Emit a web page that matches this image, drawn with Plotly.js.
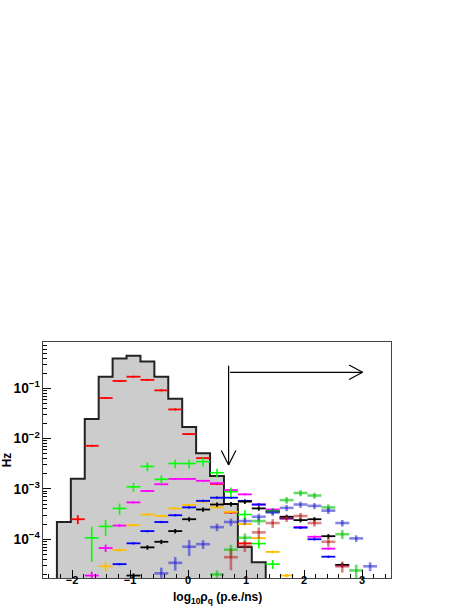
<!DOCTYPE html>
<html>
<head>
<meta charset="utf-8">
<script src="https://cdn.plot.ly/plotly-3.0.1.min.js"></script>
<style>
  html, body { margin: 0; padding: 0; background: #fff; }
</style>
</head>
<body>
<div id="chart" style="width:469px;height:607px;"></div>
<script>
// bin centres of log10(rho_q), 25 bins of 0.24 between -2.5 and 3.5
const binCenters = [-2.38, -2.14, -1.90, -1.66, -1.42, -1.18, -0.94, -0.70, -0.46, -0.22,
  0.02, 0.26, 0.50, 0.74, 0.98, 1.22, 1.46, 1.70, 1.94, 2.18, 2.42, 2.66, 2.90, 3.14, 3.38];
const halfBin = 0.12;

// grey total histogram (bin edges and contents)
const histEdges = [-2.26, -2.02, -1.78, -1.54, -1.30, -1.06, -0.82, -0.58, -0.34, -0.10,
  0.14, 0.38, 0.62, 0.86, 1.10, 1.34];
const histValues = [2.2e-4, 1.6e-3, 0.0245, 0.17, 0.39, 0.445, 0.34, 0.17, 0.062, 0.017,
  0.0051, 1.8e-3, 5.0e-4, 7.0e-5, 3.5e-5];

// solid series (one value per bin, null = no point)
const redVals = [null, null, 2.5e-4, 7.2e-3, 0.064, 0.14, 0.17, 0.147, 0.091, 0.038,
  0.0123, 0.0041, 1.26e-3, 3.4e-4, 8.3e-5, null, null, null, null, null, null, null, null, null, null];
const redRel = [0, 0, 0.2, 0.04, 0.04, 0.04, 0.04, 0.04, 0.04, 0.04,
  0.04, 0.04, 0.04, 0.05, 0.06, 0, 0, 0, 0, 0, 0, 0, 0, 0, 0];

const greenVals = [null, null, null, 1.07e-4, 1.8e-4, 4.1e-4, 1.1e-3, 2.8e-3, 1.55e-3, 3.2e-3,
  3.2e-3, 3.5e-3, 2.1e-3, 8.8e-4, 3.1e-4, 8.2e-5, 3.2e-5, null, null, null, null, null, null, null, null];
const greenRel = [0, 0, 0, 0.67, 0.35, 0.25, 0.2, 0.2, 0.2, 0.2,
  0.2, 0.2, 0.2, 0.22, 0.22, 0.2, 0.2, 0, 0, 0, 0, 0, 0, 0, 0];

const magentaVals = [null, null, null, 1.9e-5, 6.7e-5, 1.87e-4, 5.4e-4, 9.1e-4, 1.24e-3, 1.58e-3,
  1.58e-3, 1.45e-3, 1.3e-3, 9.5e-4, 7.8e-4, 4.9e-4, 3.9e-4, 2.6e-4, 1.74e-4, 1.12e-4,
  6.5e-5, 3.0e-5, null, null, null];
const magentaRel = [0, 0, 0, 0.2, 0.17, 0.06, 0.04, 0.04, 0.04, 0.04,
  0.04, 0.04, 0.04, 0.04, 0.04, 0.04, 0.05, 0.05, 0.05, 0.05, 0.06, 0.08, 0, 0, 0];

const orangeVals = [null, null, null, null, 2.9e-5, 6.1e-5, 1.9e-4, 3.1e-4, 2.9e-4, 4.1e-4,
  4.8e-4, 5.6e-4, 4.3e-4, 3.5e-4, 2.0e-4, 1.05e-4, 5.6e-5, 1.9e-5, null, null, null, null, null, null, null];
const orangeRel = [0, 0, 0, 0, 0.22, 0.07, 0.05, 0.05, 0.05, 0.05,
  0.05, 0.05, 0.05, 0.05, 0.05, 0.05, 0.06, 0.08, 0, 0, 0, 0, 0, 0, 0];

const blueVals = [null, null, null, null, null, 3.2e-5, 8.3e-5, 1.45e-4, 2.2e-4, 3.0e-4,
  4.3e-4, 5.8e-4, 6.7e-4, 6.7e-4, 5.8e-4, 4.9e-4, 3.5e-4, 2.6e-4, 1.7e-4, 1.0e-4,
  4.5e-5, null, null, null, null];
const blueRel = 0.05;

const blackVals = [null, null, null, null, null, null, 1.9e-5, 6.9e-5, 8.9e-5, 1.45e-4,
  2.5e-4, 3.9e-4, 4.9e-4, 5.0e-4, 5.6e-4, 4.1e-4, 3.6e-4, 2.8e-4, 2.4e-4, 2.5e-4,
  1.15e-4, 3.1e-5, null, null, null];
const blackRel = 0.1;

// faded series (crosses)
const blueBVals = [null, null, null, null, null, null, null, null, 2.1e-5, 3.4e-5,
  7.1e-5, 8.0e-5, 1.74e-4, 2.2e-4, 2.3e-4, 2.8e-4, 3.4e-4, 4.2e-4, 4.9e-4, 4.6e-4,
  3.7e-4, 2.1e-4, 1.04e-4, 2.9e-5, null];
const blueBRel = [0, 0, 0, 0, 0, 0, 0, 0, 0.3, 0.3,
  0.35, 0.2, 0.17, 0.17, 0.15, 0.15, 0.14, 0.14, 0.14, 0.14, 0.14, 0.15, 0.15, 0.2, 0];

const redBVals = [null, null, null, null, null, null, null, null, null, null,
  null, null, null, 4.4e-5, 7.4e-5, 1.37e-4, 2.1e-4, 2.6e-4, 2.9e-4, 2.1e-4,
  8.9e-5, 2.9e-5, null, null, null];
const redBRel = [0, 0, 0, 0, 0, 0, 0, 0, 0, 0,
  0, 0, 0, 0.45, 0.25, 0.25, 0.2, 0.15, 0.15, 0.15, 0.2, 0.25, 0, 0, 0];

const greenBVals = [null, null, null, null, null, null, null, null, null, null,
  null, null, 2.0e-5, 6.2e-5, 1.07e-4, 2.3e-4, 3.6e-4, 6.0e-4, 8.3e-4, 7.4e-4,
  4.3e-4, 1.26e-4, 2.4e-5, null, null];
const greenBRel = [0, 0, 0, 0, 0, 0, 0, 0, 0, 0,
  0, 0, 0.2, 0.25, 0.22, 0.18, 0.15, 0.15, 0.14, 0.14, 0.15, 0.2, 0.3, 0, 0];

// cut arrows
const cutLog = 0.70;
const vArrowTop = 0.30;
const vArrowTip = 3.0e-3;
const hArrowLevel = 0.208;
const hArrowEnd = 3.01;

function series(vals, rel, color, thick) {
  const x = [], y = [], e = [];
  vals.forEach((v, i) => {
    if (v === null) return;
    x.push(binCenters[i]);
    y.push(v);
    const r = Array.isArray(rel) ? rel[i] : rel;
    e.push(v * r);
  });
  return {
    x: x, y: y, type: "scatter", mode: "markers",
    marker: { size: 2, color: color },
    error_x: { type: "constant", value: halfBin, width: 0, thickness: thick, color: color },
    error_y: { type: "data", array: e, width: 0, thickness: thick, color: color },
    hoverinfo: "skip",
  };
}

const floorVal = 1e-6;
const histTrace = {
  x: [histEdges[0]].concat(histEdges.slice(0, histValues.length), [histEdges[histEdges.length - 1]]),
  y: [floorVal].concat(histValues, [floorVal]),
  type: "scatter", mode: "lines",
  line: { shape: "hv", color: "#222", width: 2 },
  fill: "toself", fillcolor: "#cccccc",
  hoverinfo: "skip",
};

const traces = [
  histTrace,
  series(redVals, redRel, "#ff0000", 1.8),
  series(magentaVals, magentaRel, "#ff00ff", 1.8),
  series(orangeVals, orangeRel, "#ffbf00", 1.8),
  series(blueVals, blueRel, "#0000ff", 1.8),
  series(blackVals, blackRel, "#000000", 1.8),
  series(greenVals, greenRel, "#00ff00", 1.6),
  series(greenBVals, greenBRel, "rgba(20,200,20,0.65)", 2.6),
  series(blueBVals, blueBRel, "rgba(50,50,215,0.6)", 2.6),
  series(redBVals, redBRel, "rgba(185,30,30,0.55)", 2.6),
];

const arm = (x, y, ax, ay) => ({
  x: x, y: y, xref: "x", yref: "y", ax: ax, ay: ay,
  text: "", showarrow: true, arrowhead: 0, arrowwidth: 1.2, arrowcolor: "#000", standoff: 0,
});

const boldFont = { family: "Liberation Sans, Arial, sans-serif", size: 11, color: "#000", weight: "bold" };
const titleFont = { family: "Liberation Sans, Arial, sans-serif", size: 12, color: "#000", weight: "bold" };

const annotations = [
  {
    x: cutLog, y: Math.log10(vArrowTip), ax: cutLog, ay: Math.log10(vArrowTop),
    xref: "x", yref: "y", axref: "x", ayref: "y",
    text: "", showarrow: true, arrowhead: 0, arrowwidth: 1.2, arrowcolor: "#000", standoff: 0,
  },
  arm(cutLog, Math.log10(vArrowTip), -8, -16),
  arm(cutLog, Math.log10(vArrowTip), 8, -16),
  {
    x: hArrowEnd, y: Math.log10(hArrowLevel), ax: cutLog, ay: Math.log10(hArrowLevel),
    xref: "x", yref: "y", axref: "x", ayref: "y",
    text: "", showarrow: true, arrowhead: 0, arrowwidth: 1.2, arrowcolor: "#000", standoff: 0,
  },
  arm(hArrowEnd, Math.log10(hArrowLevel), -15, -8),
  arm(hArrowEnd, Math.log10(hArrowLevel), -15, 8),
  {
    // x-axis title, placed under the tick labels
    text: "log<sub>10</sub>ρ<sub>q</sub> (p.e./ns)", font: titleFont,
    xref: "paper", yref: "paper", x: 0.5, y: -0.042,
    xanchor: "center", yanchor: "top", showarrow: false,
  },
];

const layout = {
  width: 469, height: 607,
  margin: { l: 43, r: 78, t: 342, b: 29 },
  paper_bgcolor: "#fff", plot_bgcolor: "#fff",
  showlegend: false,
  font: boldFont,
  xaxis: {
    range: [-2.5, 3.5], tickvals: [-2, -1, 0, 1, 2, 3],
    ticks: "inside", ticklen: 8, tickwidth: 1, tickcolor: "#000",
    showline: true, mirror: true, linecolor: "#444", linewidth: 1,
    showgrid: false, zeroline: false, automargin: false,
    tickfont: boldFont, ticklabelstandoff: -8,
    minor: { dtick: 0.2, ticks: "inside", ticklen: 4, tickcolor: "#000", showgrid: false },
  },
  yaxis: {
    type: "log", range: [-4.77, -0.08], dtick: 1, exponentformat: "power",
    ticks: "inside", ticklen: 8, tickwidth: 1, tickcolor: "#000",
    showline: true, mirror: true, linecolor: "#444", linewidth: 1,
    showgrid: false, zeroline: false, automargin: false,
    tickfont: boldFont,
    minor: { dtick: "D1", ticks: "inside", ticklen: 4, tickcolor: "#000", showgrid: false },
    title: { text: "Hz", standoff: 6, font: titleFont },
  },
  annotations: annotations,
};

Plotly.newPlot("chart", traces, layout, { staticPlot: true, displayModeBar: false });
</script>
</body>
</html>
